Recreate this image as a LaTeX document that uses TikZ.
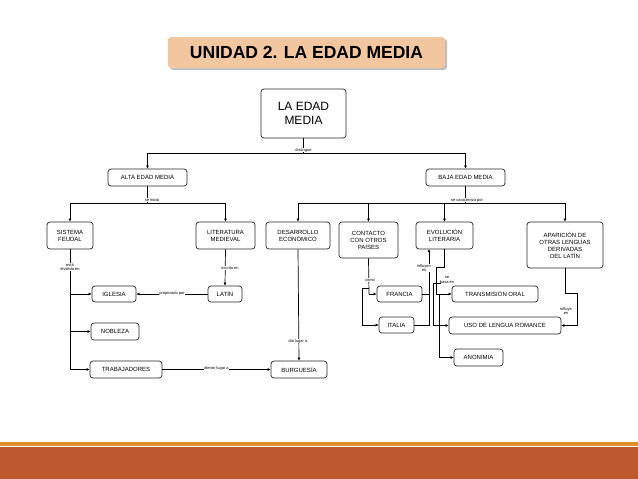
\documentclass[tikz,border=0pt]{standalone}
\usepackage{fontspec}
\setmainfont{Liberation Sans}
\usetikzlibrary{arrows.meta}
\definecolor{titlefill}{HTML}{F2C7A0}
\definecolor{rust}{HTML}{BC5A2E}
\definecolor{bandor}{HTML}{E0922A}
\begin{document}
\begin{tikzpicture}[x=1pt,y=-1pt,
 bx/.style={draw=black!85,line width=0.7pt,rounded corners=3pt,inner sep=0pt,align=center,font=\fontsize{6}{7}\selectfont},
 lbl/.style={font=\fontsize{4}{4.5}\selectfont,inner sep=0.5pt,align=center,fill=white},
 ln/.style={line width=0.7pt},
 ar/.style={line width=0.7pt,-{Latex[length=3pt,width=3pt]}}]
\useasboundingbox (0,0) rectangle (638,479);
\fill[rust] (0,447) rectangle (638,479);
\fill[bandor] (0,442) rectangle (638,446);
% title
\fill[black!25,rounded corners=3pt] (170,39) rectangle (447,70);
\node[fill=titlefill,rounded corners=3pt,minimum width=277,minimum height=31,inner sep=0pt,font=\bfseries\fontsize{17.5}{19}\selectfont] (title) at (306.5,52.5) {UNIDAD 2. LA EDAD MEDIA};
\node[bx,minimum width=85,minimum height=49,font=\fontsize{12}{14}\selectfont] (lem) at (303.5,113.5) {LA EDAD\\MEDIA};
\node[bx,minimum width=79,minimum height=17] (alta) at (147.5,177.5) {ALTA EDAD MEDIA};
\node[bx,minimum width=79,minimum height=17] (baja) at (465.5,177.5) {BAJA EDAD MEDIA};
\node[bx,minimum width=46,minimum height=27] (sis) at (70,235.5) {SISTEMA\\FEUDAL};
\node[bx,minimum width=59,minimum height=27] (lit) at (225.5,235.5) {LITERATURA\\MEDIEVAL};
\node[bx,minimum width=64,minimum height=27] (des) at (298,235.5) {DESARROLLO\\ECONÓMICO};
\node[bx,minimum width=59,minimum height=36] (con) at (368.5,240) {CONTACTO\\CON OTROS\\PAÍSES};
\node[bx,minimum width=57,minimum height=27] (evo) at (444.5,235.5) {EVOLUCIÓN\\LITERARIA};
\node[bx,minimum width=76,minimum height=46] (apa) at (565,245) {APARICIÓN DE\\OTRAS LENGUAS\\DERIVADAS\\DEL LATÍN};
\node[bx,minimum width=44,minimum height=16] (igl) at (114,294) {IGLESIA};
\node[bx,minimum width=34,minimum height=16] (lat) at (225,294) {LATÍN};
\node[bx,minimum width=48,minimum height=17] (nob) at (115,331.5) {NOBLEZA};
\node[bx,minimum width=72,minimum height=17] (tra) at (126,369.5) {TRABAJADORES};
\node[bx,minimum width=56,minimum height=17] (bur) at (299,369.5) {BURGUESÍA};
\node[bx,minimum width=45,minimum height=16] (fra) at (399.5,294) {FRANCIA};
\node[bx,minimum width=35,minimum height=16] (ita) at (396.5,325) {ITALIA};
\node[bx,minimum width=86,minimum height=16] (tor) at (495,294) {TRANSMISIÓN ORAL};
\node[bx,minimum width=112,minimum height=17] (uso) at (505,325.5) {USO DE LENGUA ROMANCE};
\node[bx,minimum width=49,minimum height=17] (ano) at (478.5,357.5) {ANONIMIA};
% top level
\coordinate (d1) at (303.5,153);
\draw[ln] (lem.south) -- (d1);
\draw[ar] (d1) -| (alta.north);
\draw[ar] (d1) -| (baja.north);
\node[lbl] at (303.5,150) {distingue};
% alta
\coordinate (d2) at (147.5,203);
\draw[ln] (alta.south) -- (d2);
\draw[ar] (d2) -| (sis.north);
\draw[ar] (d2) -| (lit.north);
\node[lbl] at (152,200) {se inicia};
% baja
\coordinate (d3) at (465.5,203);
\draw[ln] (baja.south) -- (d3);
\draw[ar] (d3) -| (des.north);
\draw[ar] (d3) -| (con.north);
\draw[ar] (d3) -| (evo.north);
\draw[ar] (d3) -| (apa.north);
\node[lbl] at (467,200) {se caracteriza por};
% sistema
\draw[ln] (sis.south) -- (70,369.5);
\draw[ar] (70,294) -- (igl.west);
\draw[ar] (70,331.5) -- (nob.west);
\draw[ar] (70,369.5) -- (tra.west);
\node[lbl] at (70,267) {está\\dividido en};
\draw[ar] (lit.south) -- (lat.north);
\node[lbl] at (230,268) {escrita en};
\draw[ar] (lat.west) -- (igl.east) node[lbl,midway,above=-2pt] {propiciado por};
\draw[ar] (tra.east) -- (bur.west) node[lbl,midway,above=-2pt] {dieron lugar a};
\draw[ar] (des.south) -- (bur.north);
\node[lbl] at (298,341) {dio lugar a};
% contacto
\draw[ln] (con.south) -- (369,294);
\draw[ar] (369,294) -- (fra.west);
\draw[ln] (369,288) -- (362,288);
\draw[ar] (362,288) |- (ita.west);
\node[lbl] at (370,280) {como};
\draw[ln] (fra.east) -- (429,294);
\draw[ar] (ita.east) -| (429,249);
\node[lbl] at (424,268) {influyen\\en};
% evolucion
\draw[ln] (evo.south) |- (436,267);
\draw[ar] (436,267) |- (tor.west);
\draw[ln] (433,283) -- (441,283);
\draw[ar] (433,283) |- (uso.west);
\draw[ar] (439,294) |- (ano.west);
\node[lbl,fill=none] at (447,280) {se\\basa en};
% aparicion
\draw[ln] (apa.south) |- (577,293);
\draw[ar] (577,293) |- (uso.east);
\node[lbl] at (566,311) {influye\\en};
\end{tikzpicture}
\end{document}
